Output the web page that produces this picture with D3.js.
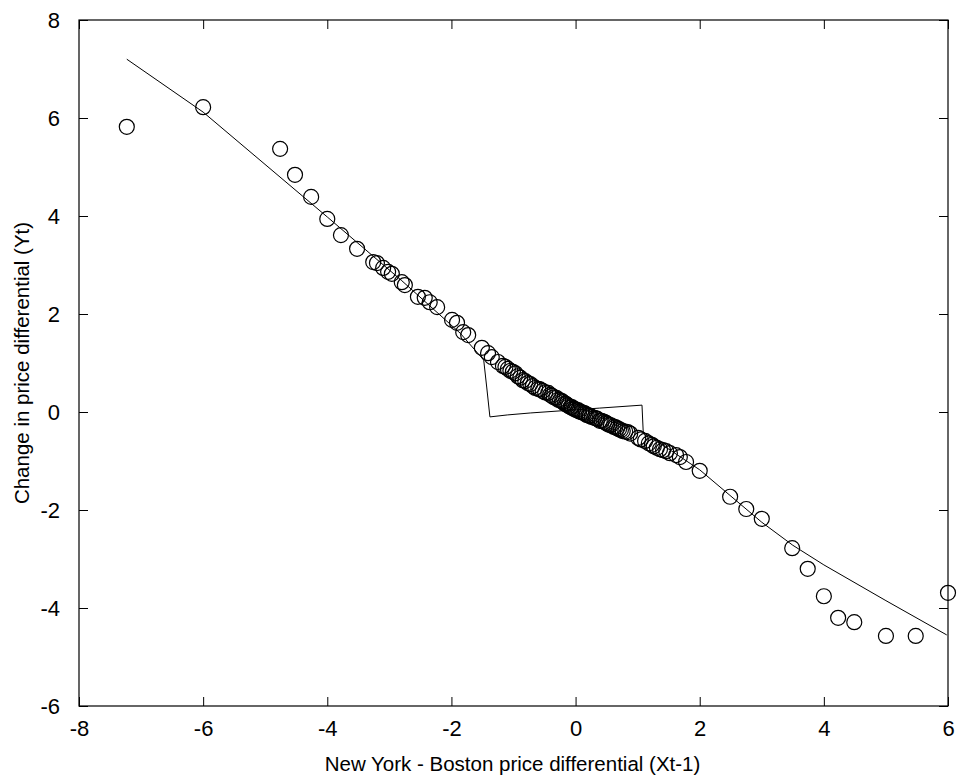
<!DOCTYPE html>
<html>
<head>
<meta charset="utf-8">
<script src="https://cdn.jsdelivr.net/npm/d3@7"></script>
<style>
body { margin: 0; background: #fff; }
svg { display: block; font-family: "Liberation Sans", Arial, sans-serif; }
</style>
</head>
<body>
<svg id="plot" width="958" height="783"></svg>
<script>
(function(){

// observations: lagged differential (x) vs change (y)
var obsX = [-7.23, -6.00, -4.76, -4.52, -4.26, -4.00, -3.78, -3.52, -3.26, -3.20,
	-3.10, -3.02, -2.96, -2.80, -2.75, -2.54, -2.43, -2.35, -2.23, -1.99,
	-1.91, -1.81, -1.73, -1.51, -1.41, -1.35, -1.25, -1.17, -1.09, -1.01,
	-0.93, -0.85, -0.77, -0.69, -0.60, -0.53, -0.44, -0.38, -0.31, -0.25,
	-0.20, -0.15, -0.11, -0.06, -0.01, 0.04, 0.09, 0.14, 0.18, 0.23,
	0.30, 0.35, 0.39, 0.46, 0.51, 0.57, 0.64, 0.70, 0.76, 0.84,
	1.01, 1.12, 1.23, 1.31, 1.41, 1.52, 1.68, 1.78, 2.00, 2.49,
	2.75, 3.00, 3.49, 3.74, 4.00, 4.23, 4.49, 5.00, 5.48, 6.00,
	-1.13, -1.05, -0.97, -0.89, -0.81, -0.73, -0.65, -0.57, -0.49, -0.41,
	-0.35, -0.28, -0.22, -0.17, -0.13, -0.08, -0.04, 0.01, 0.06, 0.11,
	0.16, 0.21, 0.26, 0.33, 0.42, 0.49, 0.54, 0.61, 0.67, 0.73,
	0.80, 0.88, 1.05, 1.18, 1.26, 1.36, 1.46, 1.62];
var obsY = [5.82, 6.22, 5.37, 4.84, 4.39, 3.94, 3.61, 3.33, 3.06, 3.04,
	2.94, 2.86, 2.82, 2.65, 2.59, 2.35, 2.33, 2.24, 2.14, 1.88,
	1.82, 1.63, 1.57, 1.31, 1.20, 1.12, 1.02, 0.94, 0.88, 0.82,
	0.73, 0.65, 0.59, 0.53, 0.47, 0.43, 0.39, 0.33, 0.29, 0.24,
	0.20, 0.16, 0.12, 0.10, 0.06, 0.04, 0.00, -0.02, -0.06, -0.08,
	-0.12, -0.14, -0.18, -0.20, -0.24, -0.27, -0.31, -0.35, -0.39, -0.41,
	-0.53, -0.59, -0.67, -0.73, -0.78, -0.84, -0.92, -1.02, -1.20, -1.73,
	-1.98, -2.18, -2.78, -3.20, -3.76, -4.20, -4.29, -4.57, -4.57, -3.69,
	0.92, 0.84, 0.79, 0.70, 0.63, 0.57, 0.49, 0.46, 0.40, 0.35,
	0.30, 0.25, 0.22, 0.17, 0.14, 0.10, 0.07, 0.04, 0.01, -0.01,
	-0.04, -0.07, -0.10, -0.13, -0.18, -0.22, -0.26, -0.30, -0.33, -0.37,
	-0.40, -0.44, -0.56, -0.64, -0.70, -0.76, -0.80, -0.88];

// fitted values, sorted by x
var fitX = [-7.23, -6.00, -4.00, -2.80, -1.86, -1.48, -1.43, -1.38, -1.10, -0.73,
	0.39, 1.07, 1.09, 2.00, 3.00, 3.50, 4.00, 5.00, 5.98];
var fitY = [7.20, 6.12, 3.98, 2.68, 1.61, 1.06, 0.49, -0.10, -0.06, -0.02,
	0.08, 0.14, -0.41, -1.18, -2.25, -2.72, -3.12, -3.85, -4.55];

var xTicks = [-8, -6, -4, -2, 0, 2, 4, 6];
var yTicks = [-6, -4, -2, 0, 2, 4, 6, 8];

var xTitle = "New York - Boston price differential (Xt-1)";
var yTitle = "Change in price differential (Yt)";

var left = 79, right = 948, top = 20, bottom = 706,
tickLen = 9,
svg = d3.select("#plot");

var x = d3.scaleLinear().domain([-8, 6]).range([left, right]);
var y = d3.scaleLinear().domain([-6, 8]).range([bottom, top]);

// plain hyphen for negatives
function label(d){ return String(d); };

//AXES (ticks pointing in, on all four sides)
function styleAxis(g){
	g.select(".domain").remove();
	g.selectAll(".tick line").attr("stroke", "#000").attr("stroke-width", 1);
	g.selectAll(".tick text")
		.attr("fill", "#000")
		.attr("font-size", 22)
		.attr("font-family", "Liberation Sans, Arial, sans-serif");
};

svg.append("g")
	.attr("transform", `translate(0,${bottom})`)
	.call(d3.axisBottom(x).tickValues(xTicks).tickFormat(label).tickSizeInner(-tickLen).tickSizeOuter(0).tickPadding(14))
	.call(styleAxis);

svg.append("g")
	.attr("transform", `translate(0,${top})`)
	.call(d3.axisTop(x).tickValues(xTicks).tickFormat("").tickSizeInner(-tickLen).tickSizeOuter(0))
	.call(styleAxis);

svg.append("g")
	.attr("transform", `translate(${left},0)`)
	.call(d3.axisLeft(y).tickValues(yTicks).tickFormat(label).tickSizeInner(-tickLen).tickSizeOuter(0).tickPadding(19))
	.call(styleAxis);

svg.append("g")
	.attr("transform", `translate(${right},0)`)
	.call(d3.axisRight(y).tickValues(yTicks).tickFormat("").tickSizeInner(-tickLen).tickSizeOuter(0))
	.call(styleAxis);

// box
svg.append("rect")
	.attr("x", left)
	.attr("y", top)
	.attr("width", right - left)
	.attr("height", bottom - top)
	.attr("fill", "none")
	.attr("stroke", "#000")
	.attr("stroke-width", 1.2);

//FITTED LINE
var fit = fitX.map(function(d, i){ return [d, fitY[i]]; });
svg.append("path")
	.datum(fit)
	.attr("d", d3.line().x(function(d){ return x(d[0]); }).y(function(d){ return y(d[1]); }))
	.attr("fill", "none")
	.attr("stroke", "#000")
	.attr("stroke-width", 1);

//SCATTER
var obs = obsX.map(function(d, i){ return [d, obsY[i]]; });
svg.append("g")
	.selectAll("circle")
	.data(obs)
	.enter()
	.append("circle")
		.attr("cx", function(d){ return x(d[0]); })
		.attr("cy", function(d){ return y(d[1]); })
		.attr("r", 7.5)
		.attr("fill", "none")
		.attr("stroke", "#000")
		.attr("stroke-width", 1.2);

//TITLES
svg.append("text")
	.attr("x", (left + right) / 2 - 1)
	.attr("y", 771)
	.attr("text-anchor", "middle")
	.attr("font-size", 20.5)
	.text(xTitle);

svg.append("text")
	.attr("transform", `translate(29,${(top + bottom) / 2}) rotate(-90)`)
	.attr("text-anchor", "middle")
	.attr("font-size", 20.5)
	.text(yTitle);

})()
</script>
</body>
</html>
